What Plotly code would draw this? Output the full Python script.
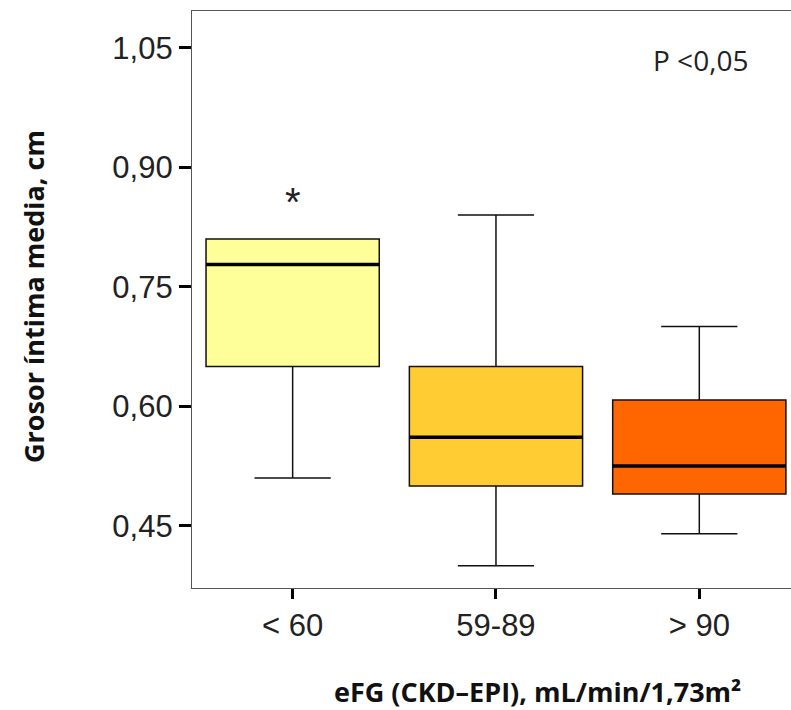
import plotly.graph_objects as go

categories = ["< 60", "59-89", "> 90"]
q1_vals = [0.65, 0.50, 0.49]
median_vals = [0.778, 0.561, 0.525]
q3_vals = [0.81, 0.65, 0.608]
lower_vals = [0.51, 0.40, 0.44]
upper_vals = [0.81, 0.84, 0.70]
outlier_x = [0]
outlier_y = [0.866]
box_colors = ["#FFFF99", "#FFCC33", "#FF6600"]
y_ticks = [0.45, 0.60, 0.75, 0.90, 1.05]
y_ticktext = ["0,45", "0,60", "0,75", "0,90", "1,05"]

L, R, T, B = 192, 791, 11, 588
W, H = 791, 710


def px(xp):
    return (xp - L) / (R - L)


def py(yp):
    return 1 - (yp - T) / (B - T)


BOX_W = 0.852
fig = go.Figure()
for i, cat in enumerate(categories):
    fig.add_trace(go.Box(
        x=[i], q1=[q1_vals[i]], median=[median_vals[i]], q3=[q3_vals[i]],
        lowerfence=[lower_vals[i]], upperfence=[upper_vals[i]],
        width=BOX_W, whiskerwidth=0.44, fillcolor=box_colors[i],
        line=dict(color="#111111", width=1.5), boxpoints=False,
        showlegend=False, hoverinfo="skip"))
    fig.add_trace(go.Scatter(
        x=[i - BOX_W / 2, i + BOX_W / 2], y=[median_vals[i], median_vals[i]],
        mode="lines", line=dict(color="black", width=3.5),
        showlegend=False, hoverinfo="skip"))

annotations = [
    dict(x=ox, y=oy, xref="x", yref="y", text="*", showarrow=False,
         xanchor="center", yanchor="middle", yshift=-8,
         font=dict(family="Liberation Sans", size=40, color="#222"))
    for ox, oy in zip(outlier_x, outlier_y)
]
annotations += [
    dict(x=px(700), y=py(60), xref="paper", yref="paper", text="P <0,05",
         showarrow=False, xanchor="center", yanchor="middle",
         font=dict(family="Open Sans", size=28, color="#222")),
    dict(x=px(537), y=py(712), xref="paper", yref="paper",
         text="<b>eFG (CKD–EPI), mL/min/1,73m²</b>",
         showarrow=False, xanchor="center", yanchor="bottom",
         font=dict(family="Open Sans", size=27, color="#111")),
    dict(x=px(33), y=py(297), xref="paper", yref="paper",
         text="<b>Grosor íntima media, cm</b>", textangle=-90,
         showarrow=False, xanchor="center", yanchor="middle",
         font=dict(family="Open Sans", size=27, color="#111")),
]

fig.update_layout(
    width=W, height=H,
    margin=dict(l=L, r=W - R, t=T, b=H - B),
    plot_bgcolor="white", paper_bgcolor="white",
    font=dict(family="Liberation Sans", color="#222"),
    xaxis=dict(
        range=[-0.495, 2.451], tickvals=[0, 1, 2], ticktext=categories,
        showgrid=False, zeroline=False, showline=True, linecolor="#555",
        linewidth=1.2, mirror=True, ticks="outside", ticklen=10, tickwidth=3,
        tickcolor="black", tickfont=dict(family="Liberation Sans", size=31, color="#222"),
    ),
    yaxis=dict(
        range=[0.372, 1.096], tickvals=y_ticks, ticktext=y_ticktext,
        showgrid=False, zeroline=False, showline=True, linecolor="#555",
        linewidth=1.2, mirror=False, ticks="outside", ticklen=12, tickwidth=3,
        tickcolor="black", tickfont=dict(family="Liberation Sans", size=31, color="#222"),
    ),
    annotations=annotations,
)

fig.write_html("out.html")
